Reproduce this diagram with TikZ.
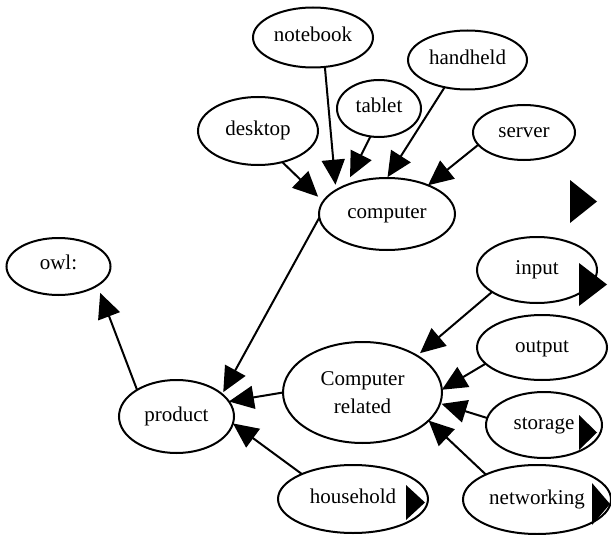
\documentclass[tikz,border=0pt]{standalone}
\usepackage{fontspec}
\setmainfont{Liberation Serif}
\usetikzlibrary{shapes.geometric,arrows.meta}
\begin{document}
\begin{tikzpicture}[x=1pt,y=-1pt,
  base/.style={draw, ellipse, line width=2pt, inner sep=0pt, outer sep=0pt,
    font=\fontsize{21}{28}\selectfont},
  ell/.style={base, text height=14pt, text depth=5pt},
  edge/.style={line width=2pt, -{Triangle[length=25pt,width=23pt]}},
  tri/.style={fill=black}
]
\useasboundingbox (0,0) rectangle (611,535);

% nodes
\node[ell, minimum width=120pt, minimum height=60pt] (nb)   at (313,37.5)  {notebook};
\node[ell, minimum width=84pt,  minimum height=57pt] (tab)  at (379,108.5) {tablet};
\node[ell, minimum width=120pt, minimum height=68pt] (desk) at (258,131)   {desktop};
\node[ell, minimum width=119pt, minimum height=59pt] (hand) at (467.5,60)  {handheld};
\node[ell, minimum width=102pt, minimum height=55pt] (serv) at (524,132.5) {server};
\node[ell, minimum width=136pt, minimum height=72pt] (comp) at (387,214)   {computer};
\node[ell, minimum width=104pt, minimum height=57pt] (owl)  at (58.5,266.5) {};
\node[font=\fontsize{21}{28}\selectfont, inner sep=0pt] (owltext) at (58.5,262) {owl:};
\node[ell, minimum width=115pt, minimum height=73pt] (prod) at (176.5,416.5) {product};
\node[base, align=center, minimum width=159pt, minimum height=101pt] (cr) at (362.5,392.5) {Computer\\related};
\node[ell, minimum width=120pt, minimum height=66pt] (inp)  at (537,270) {input};
\node[ell, minimum width=130pt, minimum height=65pt] (outp) at (542,347.5) {output};
\node[ell, minimum width=116pt, minimum height=66pt] (stor) at (544,425)   {storage};
\node[ell, minimum width=148pt, minimum height=69pt] (net)  at (537,499.5) {networking};
\node[ell, minimum width=150pt, minimum height=68pt] (house) at (353,499)  {household};

% triangles
\fill[tri] (570,180) -- (570,223) -- (597,201.5) -- cycle;
\fill[tri] (579,263) -- (579,306) -- (607,284.5) -- cycle;
\fill[tri] (579,415) -- (579,450) -- (597,432.5) -- cycle;
\fill[tri] (592,483) -- (592,525) -- (610,504) -- cycle;
\fill[tri] (406,485) -- (406,520) -- (425,502.5) -- cycle;

% edges
\draw[edge, shorten >=5.5pt] (nb.-68) -- (comp.155);
\draw[edge, shorten >=9pt] (tab.-107) -- (comp.145);
\draw[edge, shorten >=7pt] (desk.-52) -- (comp.169);
\draw[edge, shorten >=1pt] (hand.-130) -- (comp.90);
\draw[edge] (serv.-165) -- (comp.35);
\draw[edge, shorten >=2.4pt] (comp.183) -- (prod.26);
\draw[edge] (cr.180) -- (prod.16);
\draw[edge] (house.154) -- (prod.-7);
\draw[edge, shorten >=8pt] (prod.146) -- (owl.-26);
\draw[edge, shorten >=4pt] (inp.-154) -- (cr.34);
\draw[edge] (outp.-164) -- (cr.2);
\draw[edge, shorten >=1.5pt] (stor.173) -- (cr.-8);
\draw[edge] (net.154) -- (cr.-23);
\end{tikzpicture}
\end{document}
